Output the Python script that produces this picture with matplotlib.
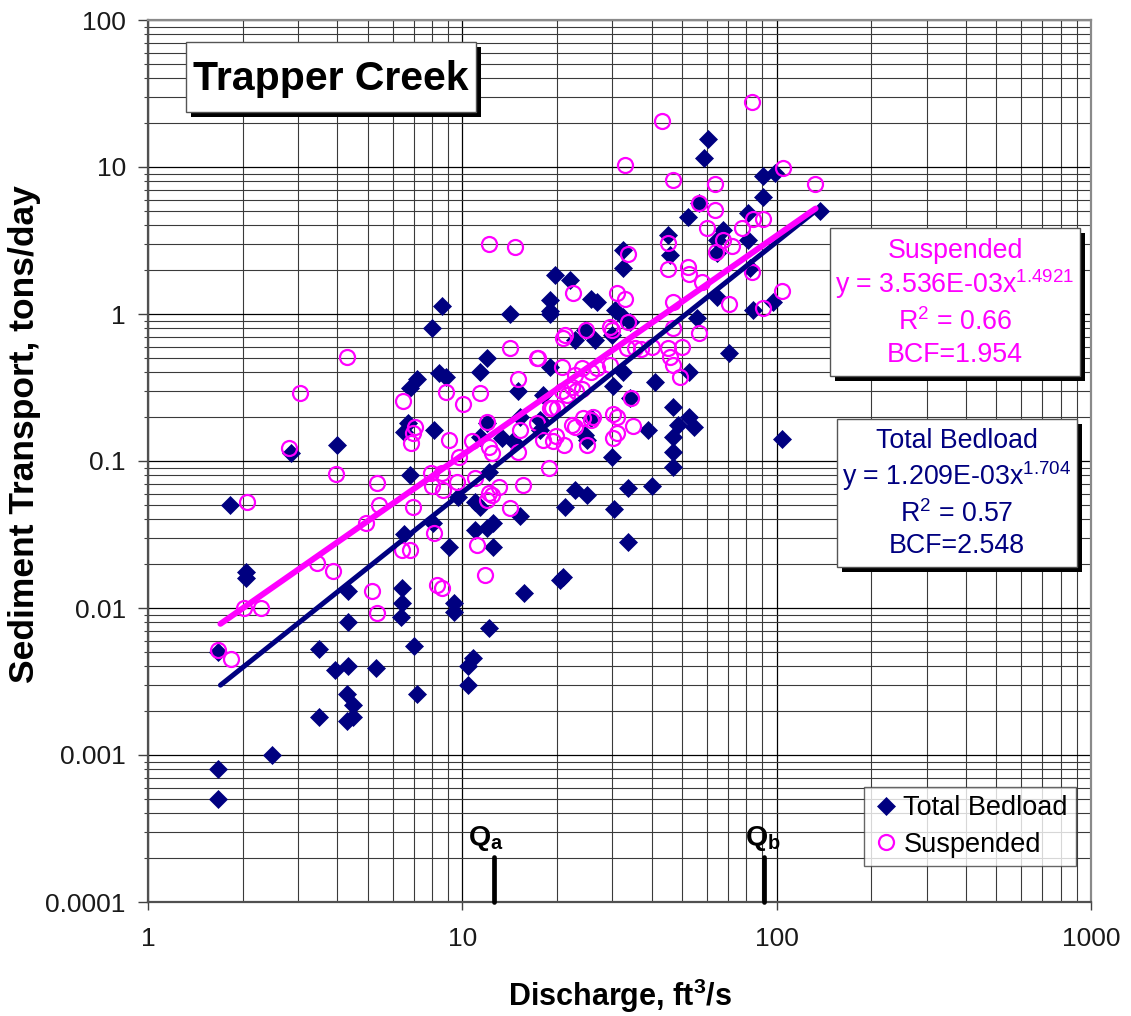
import matplotlib
matplotlib.use('Agg')
import matplotlib.pyplot as plt
from matplotlib.patches import Rectangle
from matplotlib.ticker import FixedLocator, NullFormatter, LogLocator
import numpy as np

plt.rcParams['font.family'] = ['Liberation Sans', 'DejaVu Sans']
plt.rcParams['mathtext.fontset'] = 'custom'
plt.rcParams['mathtext.rm'] = 'Liberation Sans'
plt.rcParams['mathtext.it'] = 'Liberation Sans:italic'
plt.rcParams['mathtext.bf'] = 'Liberation Sans:bold'

# ---------------- data ----------------
bed_q = [1.67, 1.67, 1.67, 1.82, 2.05, 2.05, 2.48, 2.85, 4.0, 6.8,
         8.1, 6.7, 6.5, 8.6, 8.0, 14.2, 12.0, 11.4, 15.0, 7.2,
         6.8, 8.4, 8.9, 12.0, 11.4, 12.2, 9.7, 11.0, 11.4, 12.0,
         12.5, 11.0, 12.5, 9.1, 6.5, 8.07, 15.3, 4.33, 4.33, 3.5,
         3.94, 4.33, 5.3, 3.5, 4.3, 4.5, 4.3, 4.5, 6.45, 6.45,
         6.4, 7.0, 7.2, 9.4, 9.4, 12.2, 10.85, 10.4, 10.4, 15.7,
         60.5, 58.6, 90.5, 98.6, 90.5, 56.6, 52.3, 67.5, 80.9, 80.9,
         64.5, 64.5, 137, 45.1, 45.9, 82.5, 32.5, 32.5, 64.5, 84.3,
         97.3, 70.6, 55.7, 19.7, 22.0, 19.0, 19.0, 19.0, 25.6, 26.9,
         30.6, 32.5, 24.6, 22.8, 26.4, 30.0, 34.2, 19.0, 32.5, 41.1,
         52.8, 30.2, 18.0, 34.2, 46.8, 52.8, 54.4, 48.5, 46.8, 46.8,
         46.8, 39.0, 30.0, 24.9, 17.7, 15.3, 104, 22.8, 25.0, 21.2,
         33.6, 40.0, 30.4, 33.6, 20.9, 20.4, 13.4, 14.5, 17.7, 24.6,
         25.6]
bed_t = [0.0005, 0.0008, 0.005, 0.05, 0.016, 0.0175, 0.001, 0.113, 0.128, 0.08,
         0.163, 0.18, 0.157, 1.13, 0.8, 1.0, 0.5, 0.40, 0.30, 0.36,
         0.314, 0.397, 0.37, 0.18, 0.146, 0.084, 0.057, 0.053, 0.049, 0.035,
         0.038, 0.034, 0.026, 0.026, 0.032, 0.038, 0.042, 0.013, 0.008, 0.0053,
         0.0038, 0.004, 0.0039, 0.0018, 0.0026, 0.0022, 0.0017, 0.0018, 0.0137, 0.0108,
         0.0087, 0.0055, 0.0026, 0.0108, 0.0094, 0.0073, 0.0046, 0.004, 0.003, 0.0127,
         15.5, 11.5, 8.7, 9.1, 6.25, 5.7, 4.57, 3.73, 4.86, 3.19,
         3.19, 2.6, 5.0, 3.45, 2.52, 2.06, 2.72, 2.06, 1.31, 1.06,
         1.2, 0.54, 0.94, 1.84, 1.70, 1.245, 1.05, 1.0, 1.27, 1.2,
         1.06, 0.95, 0.78, 0.67, 0.67, 0.72, 0.88, 0.435, 0.40, 0.345,
         0.40, 0.324, 0.28, 0.27, 0.233, 0.199, 0.170, 0.175, 0.146, 0.115,
         0.091, 0.163, 0.106, 0.139, 0.163, 0.20, 0.141, 0.0635, 0.0587, 0.0487,
         0.0655, 0.0676, 0.0471, 0.0281, 0.0163, 0.0155, 0.143, 0.137, 0.19, 0.15,
         0.196]

sus_q = [1.67, 1.84, 2.02, 2.29, 2.06, 2.81, 3.04, 4.3, 3.96, 3.45,
         3.88, 5.16, 5.36, 5.36, 5.43, 4.94, 6.48, 8.87, 10.05, 11.4,
         14.2, 15.0, 17.3, 7.07, 6.97, 6.87, 9.1, 9.77, 10.7, 12.0,
         12.2, 12.4, 15.3, 15.0, 15.6, 14.2, 12.2, 12.0, 13.1, 10.95,
         9.6, 8.66, 7.95, 8.6, 8.0, 6.97, 8.12, 6.45, 6.8, 11.1,
         11.8, 8.3, 8.6, 19.0, 20.0, 21.6, 23.0, 19.4, 21.0, 25.0,
         18.0, 22.4, 22.8, 24.2, 26.0, 18.9, 12.4, 43.2, 32.9, 83.6,
         46.8, 63.6, 104.6, 132, 63.6, 56.6, 60.1, 77.7, 84.0, 90.5,
         67.5, 72.0, 64.2, 45.1, 33.6, 45.1, 52.3, 52.8, 58.0, 83.6,
         104, 70.6, 90.5, 46.8, 56.6, 46.8, 50.0, 45.1, 45.8, 46.8,
         49.2, 31.0, 32.9, 33.6, 30.0, 24.8, 22.5, 21.2, 20.9, 17.4,
         20.7, 14.7, 12.2, 24.0, 25.6, 26.9, 29.5, 33.3, 35.4, 22.8,
         22.4, 20.7, 24.0, 19.3, 30.2, 31.0, 34.5, 25.6, 17.3, 19.8,
         30.2, 31.0, 34.8, 29.6, 37.0, 40.0]
sus_t = [0.0052, 0.0045, 0.010, 0.010, 0.0526, 0.1225, 0.29, 0.51, 0.0816, 0.0202,
         0.0179, 0.013, 0.0092, 0.0709, 0.0502, 0.0379, 0.256, 0.295, 0.244, 0.29,
         0.587, 0.36, 0.5, 0.17, 0.155, 0.133, 0.139, 0.106, 0.137, 0.184,
         0.125, 0.114, 0.163, 0.115, 0.0687, 0.0479, 0.0606, 0.0543, 0.0666, 0.0766,
         0.072, 0.0635, 0.0828, 0.0828, 0.0676, 0.0487, 0.0324, 0.0248, 0.0248, 0.0268,
         0.0168, 0.0143, 0.0137, 0.23, 0.23, 0.28, 0.30, 0.137, 0.128, 0.128,
         0.139, 0.176, 0.17, 0.195, 0.20, 0.0896, 0.0587, 20.5, 10.3, 27.7,
         8.2, 7.66, 9.85, 7.66, 5.1, 5.7, 3.85, 3.86, 4.43, 4.43,
         3.19, 2.9, 2.63, 3.04, 2.56, 2.02, 2.1, 1.87, 1.65, 1.93,
         1.43, 1.17, 1.1, 1.2, 0.743, 0.80, 0.597, 0.59, 0.51, 0.45,
         0.373, 1.39, 1.27, 0.88, 0.78, 0.78, 1.39, 0.72, 0.69, 0.5,
         0.435, 2.86, 2.99, 0.43, 0.40, 0.43, 0.45, 0.59, 0.59, 0.385,
         0.32, 0.30, 0.31, 0.23, 0.21, 0.20, 0.27, 0.19, 0.18, 0.147,
         0.143, 0.155, 0.173, 0.81, 0.58, 0.60]

# trend-line equations as printed on the chart
sus_coef, sus_exp = 3.536e-3, 1.4921
bed_coef, bed_exp = 1.209e-3, 1.704
fit_q_range = [1.7, 133.0]
q_marks = [12.6, 91.2]
q_names = [r'$\mathbf{Q_a}$', r'$\mathbf{Q_b}$']

x_ticks = [1, 10, 100, 1000]
x_ticklabels = ['1', '10', '100', '1000']
y_ticks = [1e-4, 1e-3, 1e-2, 1e-1, 1, 10, 100]
y_ticklabels = ['0.0001', '0.001', '0.01', '0.1', '1', '10', '100']

NAVY = '#000080'
MAG = '#FF00FF'

W, H = 1131, 1016
fig = plt.figure(figsize=(W / 100, H / 100), dpi=100)
L, R, T, B = 148, 1091, 20, 902
ax = fig.add_axes([L / W, 1 - B / H, (R - L) / W, (B - T) / H])
ax.set_xscale('log')
ax.set_yscale('log')
ax.set_xlim(1, 1000)
ax.set_ylim(1e-4, 100)

ax.xaxis.set_major_locator(FixedLocator(x_ticks))
ax.set_xticklabels(x_ticklabels)
ax.yaxis.set_major_locator(FixedLocator(y_ticks))
ax.set_yticklabels(y_ticklabels)
ax.xaxis.set_minor_locator(LogLocator(base=10, subs=np.arange(2, 10)))
ax.yaxis.set_minor_locator(LogLocator(base=10, subs=np.arange(2, 10)))
ax.xaxis.set_minor_formatter(NullFormatter())
ax.yaxis.set_minor_formatter(NullFormatter())

ax.grid(which='major', color='black', lw=0.9)
ax.grid(which='minor', color='#3a3a3a', lw=0.8)
ax.set_axisbelow(True)

ax.tick_params(axis='x', which='major', length=6, width=1, pad=12,
               labelsize=19, colors='#404040', labelcolor='#1a1a1a')
ax.tick_params(axis='x', which='minor', length=0)
ax.tick_params(axis='y', which='major', length=7, width=1, pad=9,
               labelsize=19, colors='#404040', labelcolor='#1a1a1a')
ax.tick_params(axis='y', which='minor', length=3, width=0.8, colors='#404040')
for s in ['top', 'right']:
    ax.spines[s].set_color('#8a8a8a')
    ax.spines[s].set_linewidth(1.6)
for s in ['left', 'bottom']:
    ax.spines[s].set_color('#505050')
    ax.spines[s].set_linewidth(1.6)

# data
ax.plot(bed_q, bed_t, ls='none', marker='D', ms=9, color=NAVY, mec=NAVY,
        mew=0.5, label='Total Bedload', zorder=3)
ax.plot(sus_q, sus_t, ls='none', marker='o', ms=10.8, mfc='none', mec=MAG,
        mew=1.6, label='Suspended', zorder=4)

qq = np.logspace(np.log10(fit_q_range[0]), np.log10(fit_q_range[1]), 60)
ax.plot(qq, bed_coef * qq ** bed_exp, color=NAVY, lw=3.6,
        solid_capstyle='round', zorder=5)
ax.plot(qq, sus_coef * qq ** sus_exp, color=MAG, lw=4.3,
        solid_capstyle='round', zorder=6)

# Q markers
q_offsets = [-6, -1]
for qv, name, off in zip(q_marks, q_names, q_offsets):
    ax.plot([qv, qv], [1e-4, 2.02e-4], color='black', lw=3.4,
            solid_capstyle='round', zorder=7, clip_on=False)
    ax.annotate(name, xy=(qv, 2.02e-4), xytext=(off, 3),
                textcoords='offset points', ha='center', va='bottom',
                fontsize=20.5, fontweight='bold', zorder=7)

# legend
leg = ax.legend(loc='upper left', bbox_to_anchor=(864 / W, 1 - 787 / H),
                bbox_transform=fig.transFigure, fontsize=19.5,
                frameon=True, fancybox=False, edgecolor='#404040',
                borderpad=0.3, handletextpad=0.15, handlelength=1.0,
                labelspacing=0.4, borderaxespad=0, markerscale=1.0)
leg.get_frame().set_linewidth(1.0)
leg.set_zorder(10)


def px_box(x0, y0, x1, y1, shadow=5):
    sh = Rectangle(((x0 + shadow) / W, 1 - (y1 + shadow) / H), (x1 - x0) / W,
                   (y1 - y0) / H, transform=fig.transFigure, facecolor='black',
                   edgecolor='none', zorder=20)
    bx = Rectangle((x0 / W, 1 - y1 / H), (x1 - x0) / W, (y1 - y0) / H,
                   transform=fig.transFigure, facecolor='white',
                   edgecolor='#555555', lw=1.0, zorder=21)
    fig.patches.extend([sh, bx])


def px_text(x, y, s, **kw):
    fig.text(x / W, 1 - y / H, s, zorder=22, **kw)


# title box
px_box(186, 42, 476, 112)
px_text(331, 90, 'Trapper Creek', ha='center', va='baseline',
        fontsize=29.5, fontweight='bold', color='black')

# suspended box
px_box(830, 228, 1080, 376)
sus_lines = ['Suspended', r'y = 3.536E-03x$^{1.4921}$', r'R$^{2}$ = 0.66',
             'BCF=1.954']
for s, yb in zip(sus_lines, [258, 293, 330, 362]):
    px_text(955, yb, s, ha='center', va='baseline', fontsize=19.3, color=MAG)

# bedload box
px_box(837, 419, 1077, 567)
bed_lines = ['Total Bedload', r'y = 1.209E-03x$^{1.704}$', r'R$^{2}$ = 0.57',
             'BCF=2.548']
for s, yb in zip(bed_lines, [448, 485, 522, 553]):
    px_text(957, yb, s, ha='center', va='baseline', fontsize=19.3, color=NAVY)

# axis titles
px_text(620, 1006, r'Discharge, ft$\mathbf{^{3}}$/s', ha='center',
        va='baseline', fontsize=22, fontweight='bold')
px_text(25, 434, 'Sediment Transport, tons/day', ha='center', va='center',
        rotation=90, fontsize=25.5, fontweight='bold')

fig.savefig('out.png', dpi=100)
